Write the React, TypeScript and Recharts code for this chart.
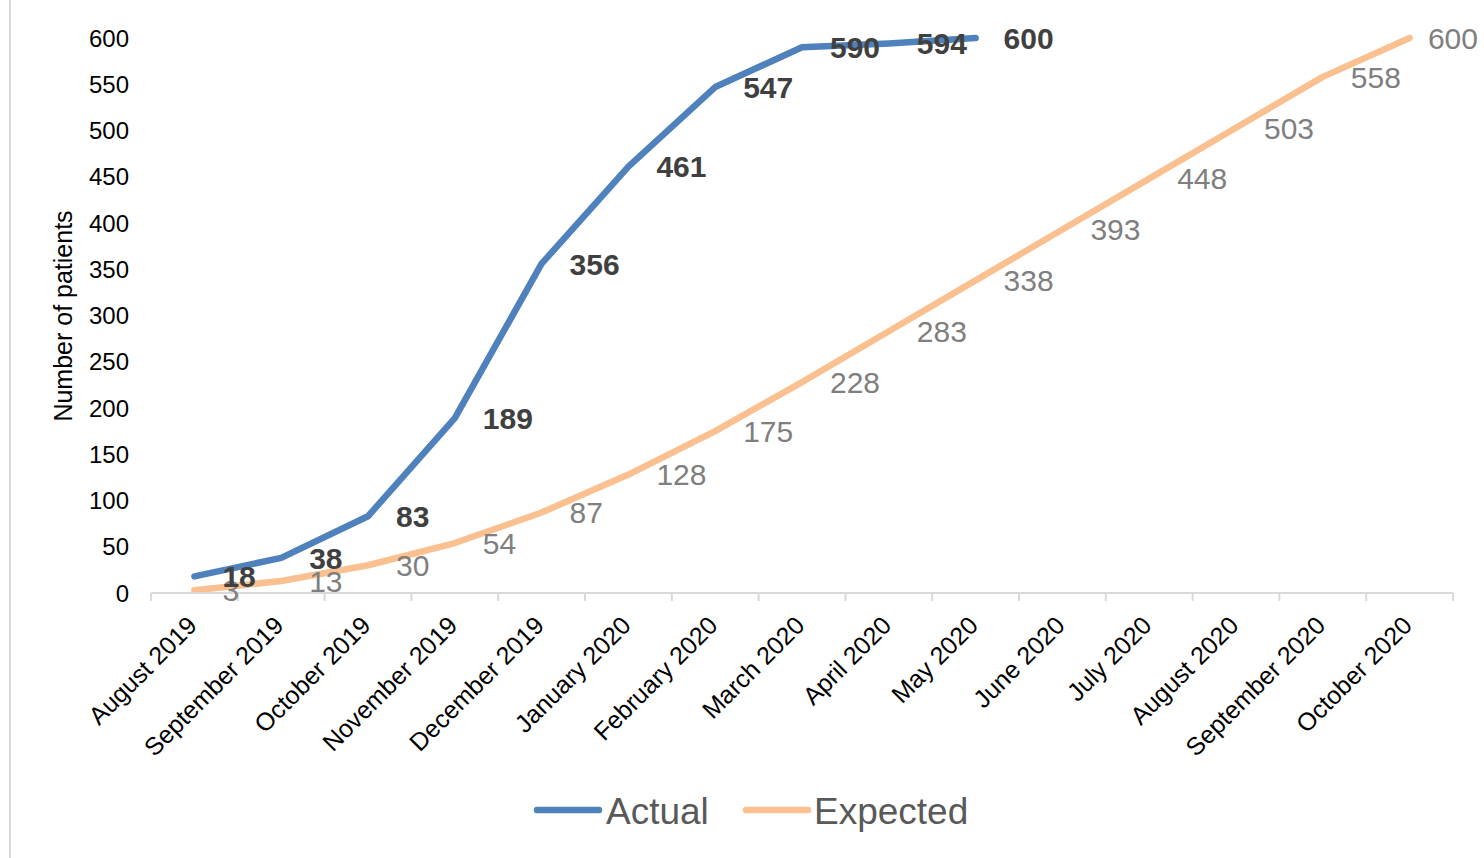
import React from "react";
import { LineChart, Line, XAxis, YAxis, LabelList, Legend } from "recharts";

// Recruitment timeline: months, cumulative actual and expected patient counts
const months = [
  "August 2019",
  "September 2019",
  "October 2019",
  "November 2019",
  "December 2019",
  "January 2020",
  "February 2020",
  "March 2020",
  "April 2020",
  "May 2020",
  "June 2020",
  "July 2020",
  "August 2020",
  "September 2020",
  "October 2020",
];

const actualPatients = [18, 38, 83, 189, 356, 461, 547, 590, 594, 600];

const expectedPatients = [3, 13, 30, 54, 87, 128, 175, 228, 283, 338, 393, 448, 503, 558, 600];

const yTicks = [0, 50, 100, 150, 200, 250, 300, 350, 400, 450, 500, 550, 600];

const seriesNames = ["Actual", "Expected"];

const data = months.map((month, i) => ({
  month,
  actual: actualPatients[i],
  expected: expectedPatients[i],
}));

const WIDTH = 1484;
const HEIGHT = 858;
const MARGIN = { top: 38, right: 31, bottom: 0, left: 0 };
const Y_AXIS_WIDTH = 151;
const PLOT_WIDTH = WIDTH - MARGIN.left - MARGIN.right - Y_AXIS_WIDTH;
const HALF_BAND = PLOT_WIDTH / months.length / 2;

const BLUE = "#4F81BD";
const ORANGE = "#FAC090";
const FONT = "Arial, 'Liberation Sans', sans-serif";

function MonthTick(props: any) {
  const { x, y, payload, index } = props;
  const last = index === months.length - 1;
  return (
    <g>
      <line x1={x - HALF_BAND} x2={x - HALF_BAND} y1={y} y2={y + 8} stroke="#D9D9D9" strokeWidth={2} />
      {last && (
        <line x1={x + HALF_BAND} x2={x + HALF_BAND} y1={y} y2={y + 8} stroke="#D9D9D9" strokeWidth={2} />
      )}
      <text
        transform={`translate(${x + 4},${y + 34}) rotate(-45)`}
        textAnchor="end"
        fontSize={25}
        fontFamily={FONT}
        fill="#000"
      >
        {payload.value}
      </text>
    </g>
  );
}

function makeValueLabel(color: string, bold: boolean) {
  return (props: any) => {
    const { x, y, value } = props;
    if (value === undefined || value === null) return null;
    const text = String(value);
    const estWidth = text.length * 16.7;
    let left = x + 28;
    if (left + estWidth > WIDTH - 6) left = WIDTH - 6 - estWidth;
    return (
      <text
        x={left}
        y={y}
        dy="0.36em"
        textAnchor="start"
        fontSize={30}
        fontWeight={bold ? 700 : 400}
        fontFamily={FONT}
        fill={color}
      >
        {text}
      </text>
    );
  };
}

function LegendContent() {
  const items = [
    { name: seriesNames[0], color: BLUE, lineX: 537, textX: 606 },
    { name: seriesNames[1], color: ORANGE, lineX: 746, textX: 814 },
  ];
  return (
    <svg width={WIDTH} height={60} style={{ display: "block" }}>
      {items.map((it) => (
        <g key={it.name}>
          <line
            x1={it.lineX}
            x2={it.lineX + 62}
            y1={30}
            y2={30}
            stroke={it.color}
            strokeWidth={6.5}
            strokeLinecap="round"
          />
          <text x={it.textX} y={44} fontSize={37} fontFamily={FONT} fill="#595959">
            {it.name}
          </text>
        </g>
      ))}
    </svg>
  );
}

function YTitle() {
  return (
    <text
      transform={`translate(72,316) rotate(-90)`}
      textAnchor="middle"
      fontSize={25}
      fontFamily={FONT}
      fill="#000"
    >
      Number of patients
    </text>
  );
}

export default function App() {
  return (
    <div style={{ position: "absolute", left: 0, top: 0, width: WIDTH, height: HEIGHT, background: "#fff" }}>
      <div style={{ position: "absolute", left: 9, top: 0, width: 2, height: HEIGHT, background: "#D9D9D9" }} />
      <LineChart width={WIDTH} height={HEIGHT} data={data} margin={MARGIN}>
        <XAxis
          dataKey="month"
          scale="band"
          interval={0}
          height={HEIGHT - 593}
          tickSize={0}
          tickMargin={0}
          tickLine={false}
          axisLine={{ stroke: "#D9D9D9", strokeWidth: 2 }}
          tick={<MonthTick />}
        />
        <YAxis
          domain={[0, 600]}
          ticks={yTicks}
          width={Y_AXIS_WIDTH}
          axisLine={false}
          tickLine={false}
          tickSize={0}
          tickMargin={22}
          interval={0}
          tick={{ fontSize: 24, fontFamily: FONT, fill: "#000" }}
          label={<YTitle />}
        />
        <Legend
          layout="horizontal"
          verticalAlign="middle"
          align="center"
          wrapperStyle={{ top: 780, left: 0, width: WIDTH, height: 60 }}
          content={<LegendContent />}
        />
        <Line
          dataKey="expected"
          name={seriesNames[1]}
          stroke={ORANGE}
          strokeWidth={6.5}
          strokeLinecap="round"
          strokeLinejoin="round"
          dot={false}
          activeDot={false}
          isAnimationActive={false}
        >
          <LabelList dataKey="expected" content={makeValueLabel("#7F7F7F", false)} />
        </Line>
        <Line
          dataKey="actual"
          name={seriesNames[0]}
          stroke={BLUE}
          strokeWidth={6.5}
          strokeLinecap="round"
          strokeLinejoin="round"
          dot={false}
          activeDot={false}
          isAnimationActive={false}
        >
          <LabelList dataKey="actual" content={makeValueLabel("#404040", true)} />
        </Line>
      </LineChart>
    </div>
  );
}
